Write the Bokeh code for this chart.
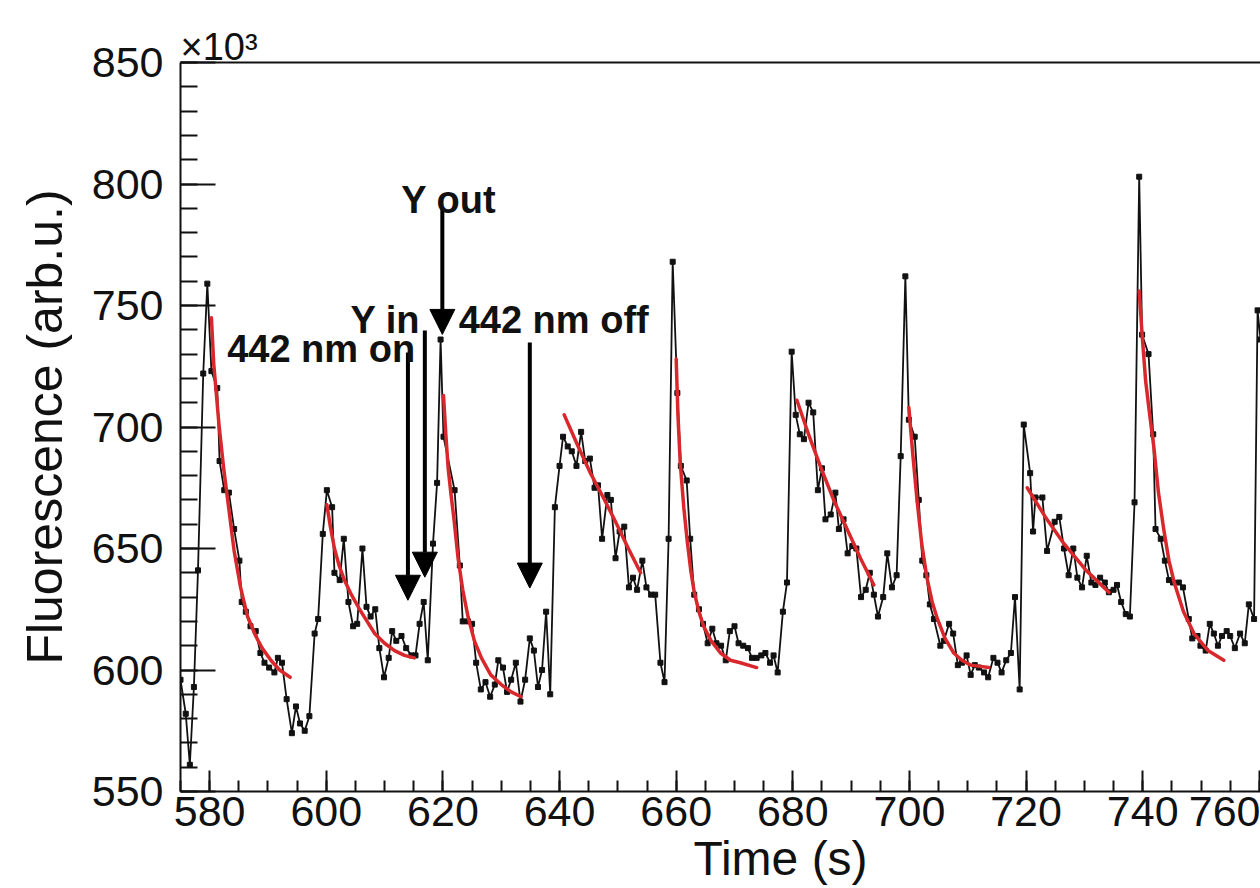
import math
from bokeh.plotting import figure
from bokeh.models import (Range1d, SingleIntervalTicker, LinearAxis, FixedTicker,
                          Label, Arrow, NormalHead, ColumnDataSource)
from bokeh.embed import file_html
from bokeh.resources import INLINE

# ---------------- data ----------------
time_s = [575.0, 575.9, 576.6, 577.3, 578.0, 578.9, 579.6, 580.3, 581.3, 581.7,
          582.5, 583.3, 584.2, 585.1, 585.5, 586.2, 587.0, 587.9, 588.7, 589.4,
          590.2, 591.1, 591.7, 592.4, 593.2, 594.1, 594.8, 595.5, 596.3, 597.1,
          598.0, 598.6, 599.4, 600.1,
          601.0, 601.4, 602.3, 603.0, 603.8, 604.6, 605.3, 606.2, 606.9, 607.6,
          608.4, 609.1, 609.9, 610.7, 611.3, 612.0, 612.9, 613.7, 614.6, 615.3,
          616.0, 616.7, 617.4, 618.3, 619.0, 619.6, 620.1, 622.0, 622.9, 623.4,
          624.3, 625.0, 625.7, 626.5, 627.3, 628.1, 628.9, 629.5, 630.3, 631.0,
          631.7, 632.5, 633.3, 634.1, 634.9, 635.6, 636.3, 637.0, 637.7, 638.4,
          639.2, 640.0,
          640.6, 641.4, 642.1, 642.9, 643.7, 644.4, 645.2, 646.0, 646.6, 647.3,
          648.2, 648.8, 649.6, 650.3, 651.1, 651.9, 652.6, 653.3, 654.2, 654.9,
          655.7, 656.4, 657.3, 658.0, 658.7, 659.4, 660.2, 660.8, 661.8, 662.4,
          663.1, 663.9, 664.6, 665.4, 666.2, 666.9, 667.7, 668.5, 669.2, 670.0,
          670.7, 671.5, 672.3, 673.0, 673.8, 674.6, 675.3, 676.1, 676.7, 677.4,
          678.3, 679.0, 679.8,
          680.5, 681.2, 681.9, 682.7, 683.5, 684.3, 685.0, 685.6, 686.5, 687.3,
          687.9, 688.7, 689.4, 690.2, 690.9, 691.7, 692.5, 693.2, 693.9, 694.6,
          695.5, 696.2, 697.0, 697.8, 698.5, 699.3, 699.9, 700.9, 701.6, 702.2,
          702.9, 703.5, 704.2, 705.3, 705.9, 706.8, 707.5, 708.3, 709.0, 709.8,
          710.5, 711.2, 711.9, 712.8, 713.5, 714.4, 715.1, 715.8, 716.6, 717.4,
          718.1, 718.9, 719.6,
          720.7, 721.2, 721.6, 722.8, 723.6, 724.9, 725.7, 726.5, 727.3, 728.1,
          728.8, 729.6, 730.4, 731.2, 731.9, 732.7, 733.5, 734.2, 735.0, 735.6,
          736.3, 737.1, 737.8, 738.6, 739.4, 739.9, 741.0, 741.8, 742.2, 743.1,
          743.8, 744.5, 745.2, 746.2, 746.9, 747.9, 748.5, 749.4, 749.9, 750.8,
          751.5, 752.2, 752.9, 753.6, 754.4, 755.0, 755.8, 756.7, 757.5, 758.2,
          759.1, 759.7, 760.2]

fluorescence_k = [596, 582, 561, 593, 641, 722, 759, 723, 716, 686,
                  674, 673, 658, 645, 628, 624, 618, 616, 607, 603,
                  601, 599, 605, 603, 588, 574, 585, 578, 575, 581,
                  615, 621, 656, 674,
                  667, 640, 637, 654, 628, 618, 619, 650, 626, 622,
                  625, 609, 597, 605, 616, 612, 614, 609, 606, 606,
                  619, 628, 604, 652, 677, 736, 696, 674, 643, 620,
                  620, 619, 603, 592, 595, 589, 594, 604, 601, 591,
                  596, 603, 587, 596, 613, 608, 593, 600, 624, 590,
                  667, 684,
                  696, 692, 690, 684, 698, 686, 687, 675, 676, 654,
                  672, 670, 646, 657, 659, 634, 638, 633, 645, 634,
                  631, 631, 603, 595, 654, 768, 714, 684, 678, 654,
                  631, 625, 619, 611, 617, 611, 610, 604, 616, 618,
                  611, 610, 609, 605, 605, 606, 607, 603, 606, 599,
                  624, 636, 731,
                  705, 697, 695, 710, 706, 674, 683, 662, 664, 673,
                  658, 662, 648, 651, 650, 630, 633, 640, 631, 622,
                  630, 648, 634, 639, 688, 762, 703, 696, 670, 645,
                  639, 627, 621, 610, 612, 619, 615, 602, 603, 606,
                  598, 602, 601, 599, 597, 605, 603, 599, 604, 607,
                  630, 592, 701,
                  681, 657, 671, 671, 649, 661, 663, 650, 639, 650,
                  638, 634, 647, 636, 635, 638, 636, 632, 633, 635,
                  628, 623, 622, 669, 803, 738, 730, 697, 658, 654,
                  645, 637, 636, 636, 634, 621, 613, 614, 610, 608,
                  619, 615, 610, 614, 616, 614, 609, 615, 611, 627,
                  621, 748, 736]

# red decay fits
fit1_t = [580.3, 580.7, 581.6, 582.4, 583.3, 584.2, 585.3, 586.5, 587.9, 589.0, 590.5, 592.0, 593.8]
fit1_v = [745, 726, 701, 683, 666, 649, 634, 622, 614, 609, 604, 600, 597]
fit2_t = [600.1, 600.7, 601.4, 602.2, 603.1, 604.3, 605.7, 607.0, 608.3, 610.0, 611.7, 613.4, 615.1]
fit2_v = [668, 659, 650, 643, 637, 631, 625, 620, 615, 611, 608, 606, 605]
fit3_t = [620.1, 620.5, 620.9, 621.4, 621.9, 622.6, 623.4, 624.3, 625.4, 626.6, 628.2, 630.0, 631.7, 633.4]
fit3_v = [713, 697, 683, 672, 662, 646, 633, 622, 612, 605, 598, 594, 591, 589]
fit4_t = [640.8, 643.0, 645.3, 647.5, 649.6, 651.8, 653.9]
fit4_v = [705, 693, 681, 671, 661, 650, 640]
fit5_t = [660.0, 660.3, 660.7, 661.3, 661.9, 662.5, 663.1, 663.9, 664.7, 666.0, 667.6, 669.3, 671.0, 673.8]
fit5_v = [728, 705, 685, 667, 653, 641, 632, 624, 618, 612, 607, 604, 603, 601]
fit6_t = [680.7, 682.7, 684.7, 687.0, 689.3, 691.6, 693.9]
fit6_v = [711, 697, 684, 670, 658, 646, 635]
fit7_t = [699.9, 700.6, 701.3, 702.1, 703.0, 703.9, 704.8, 706.1, 707.6, 709.0, 710.5, 713.6]
fit7_v = [708, 688, 670, 652, 638, 628, 621, 613, 607, 604, 602, 601]
fit8_t = [720.2, 723.3, 726.5, 730.3, 734.2]
fit8_v = [675, 663, 652, 641, 632]
fit9_t = [739.4, 739.9, 740.5, 741.2, 741.9, 742.7, 743.6, 744.5, 745.4, 747.0, 748.8, 751.2, 753.9]
fit9_v = [756, 738, 719, 705, 692, 673, 658, 645, 636, 624, 615, 608, 604]

x_ticks_interval = 20
y_ticks_interval = 50

FONT = "Liberation Sans"
RED = "#d8282c"
INK = "#111111"

p = figure(width=1260, height=888,
           x_range=Range1d(575, 760.2), y_range=Range1d(550, 850),
           output_backend="svg", toolbar_location=None,
           min_border_left=180, min_border_right=0,
           min_border_top=62, min_border_bottom=97)
p.outline_line_color = None
p.xgrid.visible = False
p.ygrid.visible = False
p.background_fill_color = "white"
p.border_fill_color = "white"

p.xaxis.ticker = SingleIntervalTicker(interval=x_ticks_interval, num_minor_ticks=4)
p.yaxis.ticker = SingleIntervalTicker(interval=y_ticks_interval, num_minor_ticks=5)

for ax in (p.xaxis[0], p.yaxis[0]):
    ax.axis_line_width = 2
    ax.axis_line_color = INK
    ax.major_tick_line_width = 2
    ax.minor_tick_line_width = 2
    ax.major_tick_line_color = INK
    ax.minor_tick_line_color = INK
    ax.major_tick_out = 0
    ax.minor_tick_out = 0
    ax.major_label_text_font = FONT
    ax.major_label_text_font_size = "43px"
    ax.major_label_text_color = INK
    ax.axis_label_text_font = FONT
    ax.axis_label_text_font_style = "normal"
    ax.axis_label_text_color = INK

p.xaxis.major_tick_in = 21
p.xaxis.minor_tick_in = 11
p.xaxis.major_label_standoff = 5
p.xaxis.axis_label = "\u00a0" * 9 + "Time (s)"
p.xaxis.axis_label_text_font_size = "48px"
p.xaxis.axis_label_standoff = 3

p.yaxis.major_tick_in = 35
p.yaxis.minor_tick_in = 17
p.yaxis.major_label_standoff = 17
p.yaxis.axis_label = "Fluorescence (arb.u.)"
p.yaxis.axis_label_text_font_size = "50px"
p.yaxis.axis_label_standoff = 16

# top frame line
top = LinearAxis(ticker=FixedTicker(ticks=[]), axis_line_width=2, axis_line_color=INK,
                 major_tick_out=0, major_tick_in=0, minor_tick_out=0, minor_tick_in=0,
                 major_label_standoff=0)
p.add_layout(top, "above")

# multiplier label above the y axis
p.title.text = "\u00d710\u00b3"
p.title.align = "left"
p.title.offset = 0
p.title.standoff = -10
p.title.text_font = FONT
p.title.text_font_size = "38px"
p.title.text_font_style = "normal"
p.title.text_color = INK

src = ColumnDataSource(dict(t=time_s, v=fluorescence_k))
p.line("t", "v", source=src, color=INK, line_width=1.8)
p.scatter("t", "v", source=src, marker="square", size=5, color=INK)

for ft, fv in [(fit1_t, fit1_v), (fit2_t, fit2_v), (fit3_t, fit3_v), (fit4_t, fit4_v),
               (fit5_t, fit5_v), (fit6_t, fit6_v), (fit7_t, fit7_v), (fit8_t, fit8_v),
               (fit9_t, fit9_v)]:
    p.line(ft, fv, color=RED, line_width=3.5, line_cap="round", line_join="round")

# arrows
for xs, ys, ye in [(614.0, 730.7, 628.7), (616.9, 739.7, 638.2),
                   (619.9, 789.9, 738.1), (634.9, 734.8, 633.7)]:
    p.add_layout(Arrow(end=NormalHead(size=25, fill_color="black", line_color="black"),
                       x_start=xs, y_start=ys, x_end=xs, y_end=ye,
                       line_width=4, line_color="black"))

def lab(text, x, y, size, align="left", bold=False):
    p.add_layout(Label(x=x, y=y, text=text, text_font=FONT, text_font_size=size,
                       text_align=align, text_baseline="alphabetic",
                       text_font_style="bold" if bold else "normal",
                       text_color=INK))

lab("Y out", 621.0, 793.5, "38px", "center", True)
lab("Y in", 616.1, 744.1, "38px", "right", True)
lab("442 nm off", 622.7, 744.1, "38px", "left", True)
lab("442 nm on", 583.0, 732.2, "38px", "left", True)

open("out.html", "w").write(file_html(p, INLINE))
